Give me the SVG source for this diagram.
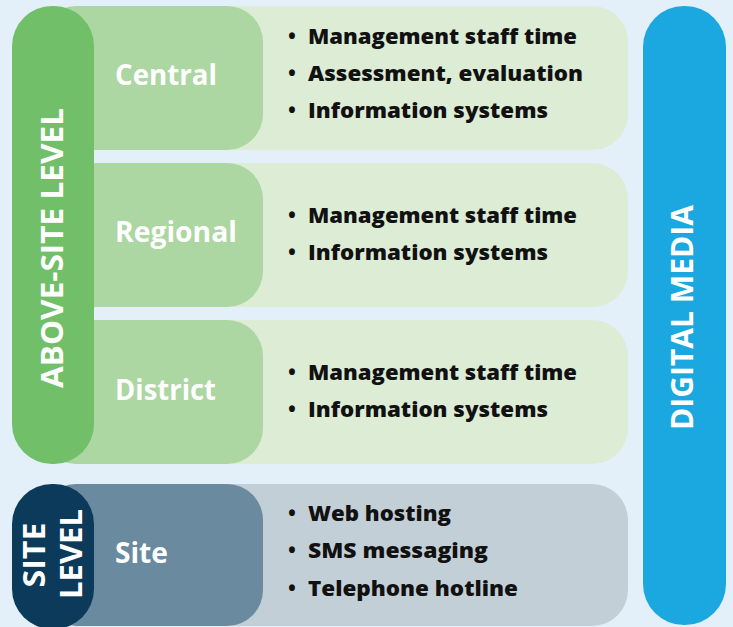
<svg xmlns="http://www.w3.org/2000/svg" width="733" height="627" viewBox="0 0 733 627">
<style>
.bg{fill:#e3eff9}
.lg{fill:#dcecd5}.mg{fill:#acd6a2}.dg{fill:#72bf6a}
.lgray{fill:#c3cfd7}.slate{fill:#6a8a9f}.navy{fill:#0b3a5a}
.blue{fill:#1ba7df}
text{font-family:"Open Sans","Noto Sans","Liberation Sans",sans-serif;font-weight:bold}
.lab{fill:#ffffff;font-size:28px}
.bul{fill:#111111;font-size:21px;font-weight:800}
.dot{fill:#111111;font-size:21px;text-anchor:middle}
.vert{fill:#ffffff;font-size:30px;text-anchor:middle}
</style>
<rect class="bg" x="0" y="0" width="733" height="627"/>
<g id="central">
<rect class="lg" x="60" y="6" width="568" height="144" rx="36"/>
<rect class="mg" x="40" y="6" width="223" height="144" rx="36"/>
<text class="lab" x="115" y="85" textLength="102" lengthAdjust="spacingAndGlyphs">Central</text>
<text class="dot" x="292" y="44">•</text><text class="bul" x="308" y="44" textLength="269" lengthAdjust="spacingAndGlyphs">Management staff time</text>
<text class="dot" x="292" y="81">•</text><text class="bul" x="308" y="81" textLength="275" lengthAdjust="spacingAndGlyphs">Assessment, evaluation</text>
<text class="dot" x="292" y="118">•</text><text class="bul" x="308" y="118" textLength="240" lengthAdjust="spacingAndGlyphs">Information systems</text>
</g>
<g id="regional">
<rect class="lg" x="60" y="163" width="568" height="144" rx="36"/>
<rect class="mg" x="40" y="163" width="223" height="144" rx="36"/>
<text class="lab" x="115" y="242" textLength="122" lengthAdjust="spacingAndGlyphs">Regional</text>
<text class="dot" x="292" y="223">•</text><text class="bul" x="308" y="223" textLength="269" lengthAdjust="spacingAndGlyphs">Management staff time</text>
<text class="dot" x="292" y="260">•</text><text class="bul" x="308" y="260" textLength="240" lengthAdjust="spacingAndGlyphs">Information systems</text>
</g>
<g id="district">
<rect class="lg" x="60" y="320" width="568" height="144" rx="36"/>
<rect class="mg" x="40" y="320" width="223" height="144" rx="36"/>
<text class="lab" x="115" y="400" textLength="101" lengthAdjust="spacingAndGlyphs">District</text>
<text class="dot" x="292" y="380">•</text><text class="bul" x="308" y="380" textLength="269" lengthAdjust="spacingAndGlyphs">Management staff time</text>
<text class="dot" x="292" y="417">•</text><text class="bul" x="308" y="417" textLength="240" lengthAdjust="spacingAndGlyphs">Information systems</text>
</g>
<g id="above-site-level">
<rect class="dg" x="12" y="6" width="82" height="458" rx="40"/>
<text class="vert" transform="translate(51.5,248) rotate(-90)" y="11" textLength="280" lengthAdjust="spacingAndGlyphs">ABOVE-SITE LEVEL</text>
</g>
<g id="site">
<rect class="lgray" x="60" y="484" width="568" height="142" rx="36"/>
<rect class="slate" x="40" y="484" width="223" height="142" rx="36"/>
<text class="lab" x="115" y="563" textLength="53" lengthAdjust="spacingAndGlyphs">Site</text>
<text class="dot" x="292" y="521">•</text><text class="bul" x="308" y="521" textLength="143" lengthAdjust="spacingAndGlyphs">Web hosting</text>
<text class="dot" x="292" y="558">•</text><text class="bul" x="308" y="558" textLength="180" lengthAdjust="spacingAndGlyphs">SMS messaging</text>
<text class="dot" x="292" y="596">•</text><text class="bul" x="308" y="596" textLength="210" lengthAdjust="spacingAndGlyphs">Telephone hotline</text>
</g>
<g id="site-level">
<rect class="navy" x="12" y="484" width="82" height="145" rx="40"/>
<text class="vert" transform="translate(33.5,555) rotate(-90)" y="11" textLength="65" lengthAdjust="spacingAndGlyphs">SITE</text>
<text class="vert" transform="translate(71,554) rotate(-90)" y="11" textLength="90" lengthAdjust="spacingAndGlyphs">LEVEL</text>
</g>
<g id="digital-media">
<rect class="blue" x="643" y="6" width="83" height="619" rx="41"/>
<text class="vert" transform="translate(681.5,317.5) rotate(-90)" y="11" textLength="225" lengthAdjust="spacingAndGlyphs">DIGITAL MEDIA</text>
</g>
<g id="connectors"/>
</svg>
